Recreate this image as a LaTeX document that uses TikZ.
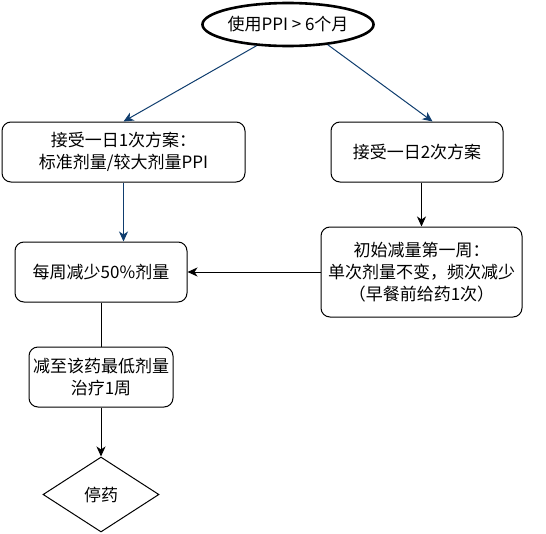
\documentclass[tikz,border=0pt]{standalone}
\usepackage{fontspec}
\setmainfont{Noto Sans CJK SC}
\usetikzlibrary{shapes.geometric,arrows.meta}
\definecolor{linkblue}{HTML}{0F3D6E}

\begin{document}
\begin{tikzpicture}[x=1pt,y=-1pt,
     stepbox/.style={draw,rectangle,rounded corners=9pt,align=center,inner sep=0pt,line width=1pt},
     startnode/.style={draw,ellipse,line width=2.6pt,minimum width=171pt,minimum height=43pt,inner sep=0pt},
     stopnode/.style={draw,diamond,minimum width=116pt,minimum height=75pt,inner sep=0pt,line width=1pt},
     flow/.style={-{Stealth[length=10pt,width=9pt,inset=3pt]},line width=1pt},
     font=\fontsize{17}{22}\selectfont
     ]
   \useasboundingbox (0,0) rectangle (546,533);

   % start and the two plans
   \node[startnode] (use) at (288,24.5) {使用PPI > 6个月};
   \node[stepbox,minimum width=243pt,minimum height=60pt] (once) at (123.5,152)
      {接受一日1次方案：\\标准剂量/较大剂量PPI};
   \node[stepbox,minimum width=172pt,minimum height=60pt] (twice) at (417,152)
      {接受一日2次方案};

   % tapering steps
   \node[stepbox,minimum width=172pt,minimum height=60pt] (half) at (101,272)
      {每周减少50\%剂量};
   \node[stepbox,minimum width=201pt,minimum height=90pt] (first) at (421.5,272)
      {初始减量第一周：\\单次剂量不变，频次减少\\（早餐前给药1次）};
   \node[stepbox,minimum width=144pt,minimum height=60pt] (lowest) at (101,377)
      {减至该药最低剂量\\治疗1周};
   \node[stopnode] (stop) at (101,494.5) {停药};

   % connectors
   \draw[flow,linkblue] (use.214) -- (once.north);
   \draw[flow,linkblue] (use.333) -- (twice.63);
   \draw[flow,linkblue] (once.south) -- (once.south |- half.north);
   \draw[flow] (first.north |- twice.south) -- (first.north);
   \draw[flow] (first.west) -- (half.east);
   \draw[line width=1pt] (half.south) -- (lowest.north);
   \draw[flow] (lowest.south) -- (stop.north);
\end{tikzpicture}
\end{document}
